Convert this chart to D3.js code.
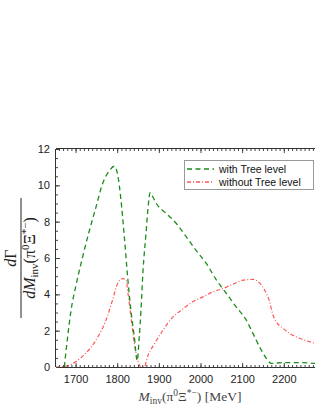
<!DOCTYPE html>
<html>
<head>
<meta charset="utf-8">
<script src="https://cdn.jsdelivr.net/npm/d3@7"></script>
<style>
  body { margin: 0; background: #fff; }
  svg { display: block; }
  .tick text { font-family: "Liberation Sans", Arial, sans-serif; font-size: 11px; fill: #222; }
</style>
</head>
<body>
<svg width="315" height="407"></svg>
<script>
// data
var xTicks = [1700, 1800, 1900, 2000, 2100, 2200];
var yTicks = [0, 2, 4, 6, 8, 10, 12];
var seriesNames = ["with Tree level", "without Tree level"];

// with Tree level (green, dashed)
var massWith = [1673, 1681, 1689, 1701, 1717, 1733, 1749, 1765, 1781, 1793, 1801, 1809, 1817, 1825, 1833, 1841, 1848,
  1853, 1857, 1862, 1869, 1875, 1879, 1887, 1894, 1918, 1942, 1966, 1990, 2014, 2038, 2062, 2086, 2110, 2126,
  2142, 2158, 2170, 2200, 2240, 2275];
var rateWith = [0, 1.67, 3.1, 4.5, 6.06, 7.5, 8.8, 10.1, 10.8, 11.05, 10.6, 9.2, 7.2, 4.96, 3.1, 1.67, 0.35,
  1.67, 3.1, 5.3, 7.3, 9.0, 9.6, 9.3, 9.0, 8.45, 7.9, 7.16, 6.4, 5.7, 4.8, 4.05, 3.3, 2.58, 1.85,
  1.1, 0.48, 0.2, 0.24, 0.24, 0.2];

// without Tree level (red, dot-dashed)
var massWithout = [1653, 1677, 1701, 1725, 1749, 1773, 1789, 1801, 1813, 1821, 1827, 1833, 1841, 1849, 1857, 1866,
  1870, 1876, 1886, 1910, 1934, 1958, 1982, 2006, 2030, 2054, 2078, 2102, 2126, 2142, 2154, 2166, 2174, 2182,
  2198, 2214, 2238, 2262, 2275];
var rateWithout = [0, 0.05, 0.3, 0.77, 1.48, 2.58, 3.7, 4.6, 4.87, 4.78, 3.86, 2.76, 1.3, 0.38, 0, 0,
  0.35, 0.75, 1.15, 2.03, 2.76, 3.2, 3.6, 3.86, 4.14, 4.32, 4.56, 4.78, 4.82, 4.63, 4.23, 3.59, 2.86, 2.49,
  2.13, 1.85, 1.58, 1.39, 1.3];

var svg = d3.select("svg");
var pLeft = 56, pRight = 315, pTop = 149, pBottom = 367;

var x = d3.scaleLinear().domain([1653, 2275]).range([pLeft, pRight]);
var y = d3.scaleLinear().domain([0, 12]).range([pBottom, pTop]);

var green = "#1c8c1c", red = "#fb5858";

// curves first, frame over them
var line = d3.line()
  .x(function(d) { return x(d[0]); })
  .y(function(d) { return y(d[1]); })
  .curve(d3.curveMonotoneX);

svg.append("clipPath").attr("id", "clip")
  .append("rect").attr("x", pLeft).attr("y", pTop).attr("width", pRight - pLeft).attr("height", pBottom - pTop + 1);

var plot = svg.append("g").attr("clip-path", "url(#clip)");

plot.append("path")
  .datum(d3.zip(massWithout, rateWithout))
  .attr("fill", "none")
  .attr("stroke", red)
  .attr("stroke-width", 1.2)
  .attr("stroke-dasharray", "4,2,1,2")
  .attr("d", line);

plot.append("path")
  .datum(d3.zip(massWith, rateWith))
  .attr("fill", "none")
  .attr("stroke", green)
  .attr("stroke-width", 1.3)
  .attr("stroke-dasharray", "5,3.5")
  .attr("d", line);

// axes, ticks pointing inward
function minor(step, lo, hi) {
  return d3.range(lo, hi + 0.001, step);
}

svg.append("g")
  .attr("transform", "translate(0," + pBottom + ")")
  .call(d3.axisBottom(x).tickValues(minor(10, 1660, 2270)).tickSize(-2).tickFormat(""))
  .call(function(g) { g.select(".domain").remove(); });

svg.append("g")
  .attr("transform", "translate(0," + pBottom + ")")
  .call(d3.axisBottom(x).tickValues(xTicks).tickSize(-4).tickPadding(8).tickFormat(d3.format("d")))
  .call(function(g) { g.select(".domain").attr("d", "M" + pLeft + ",0.5H" + pRight); });

svg.append("g")
  .attr("transform", "translate(0," + pTop + ")")
  .call(d3.axisTop(x).tickValues(minor(10, 1660, 2270)).tickSize(-2).tickFormat(""))
  .call(function(g) { g.select(".domain").remove(); });

svg.append("g")
  .attr("transform", "translate(0," + pTop + ")")
  .call(d3.axisTop(x).tickValues(xTicks).tickSize(-4).tickFormat(""))
  .call(function(g) { g.select(".domain").attr("d", "M" + pLeft + ",-0.5H" + pRight); });

svg.append("g")
  .attr("transform", "translate(" + pLeft + ",0)")
  .call(d3.axisLeft(y).tickValues(minor(0.5, 0, 12)).tickSize(-2).tickFormat(""))
  .call(function(g) { g.select(".domain").remove(); });

svg.append("g")
  .attr("transform", "translate(" + pLeft + ",0)")
  .call(d3.axisLeft(y).tickValues(yTicks).tickSize(-4).tickPadding(6))
  .call(function(g) { g.select(".domain").attr("d", "M-0.5," + pTop + "V" + pBottom); });

svg.selectAll(".tick line").attr("stroke", "#444");
svg.selectAll(".domain").attr("stroke", "#333");

// legend
var lg = svg.append("g").attr("transform", "translate(184,160)");
lg.append("rect")
  .attr("x", 0.5).attr("y", 0.5).attr("width", 129).attr("height", 29)
  .attr("fill", "#fff").attr("stroke", "#999");

[[green, "5,3.5"], [red, "4,2,1,2"]].forEach(function(s, i) {
  lg.append("line")
    .attr("x1", 3).attr("x2", 30).attr("y1", 9 + i * 13).attr("y2", 9 + i * 13)
    .attr("stroke", s[0]).attr("stroke-width", 1.3).attr("stroke-dasharray", s[1]);
  lg.append("text")
    .attr("x", 35).attr("y", 12.5 + i * 13)
    .attr("font-family", "Liberation Sans, Arial, sans-serif")
    .attr("font-size", 10.5)
    .attr("fill", "#111")
    .text(seriesNames[i]);
});

// axis titles
var serif = "Liberation Serif, Times New Roman, serif";

var xl = svg.append("text")
  .attr("x", 190).attr("y", 401)
  .attr("text-anchor", "middle")
  .attr("font-family", serif).attr("font-size", 13.5).attr("fill", "#444");
xl.append("tspan").attr("font-style", "italic").text("M");
xl.append("tspan").attr("font-size", 9.5).attr("dy", 3).text("inv");
xl.append("tspan").attr("dy", -3).text("(π");
xl.append("tspan").attr("font-size", 9.5).attr("dy", -5).text("0");
xl.append("tspan").attr("dy", 5).text("Ξ");
xl.append("tspan").attr("font-size", 9.5).attr("dy", -5).text("*−");
xl.append("tspan").attr("dy", 5).text(")  [MeV]");

var yl = svg.append("g")
  .attr("transform", "translate(21,258) rotate(-90)")
  .attr("font-family", serif).attr("fill", "#222");
yl.append("text")
  .attr("x", 0).attr("y", -5)
  .attr("text-anchor", "middle").attr("font-size", 16)
  .html('<tspan font-style="italic">d</tspan>Γ');
yl.append("line")
  .attr("x1", -60).attr("x2", 60).attr("y1", 0).attr("y2", 0)
  .attr("stroke", "#222").attr("stroke-width", 1);
var den = yl.append("text")
  .attr("x", 0).attr("y", 14)
  .attr("text-anchor", "middle").attr("font-size", 16);
den.append("tspan").attr("font-style", "italic").text("dM");
den.append("tspan").attr("font-size", 11).attr("dy", 3).text("inv");
den.append("tspan").attr("dy", -3).text("(π");
den.append("tspan").attr("font-size", 11).attr("dy", -6).text("0");
den.append("tspan").attr("dy", 6).text("Ξ");
den.append("tspan").attr("font-size", 11).attr("dy", -6).text("*−");
den.append("tspan").attr("dy", 6).text(")");
</script>
</body>
</html>
